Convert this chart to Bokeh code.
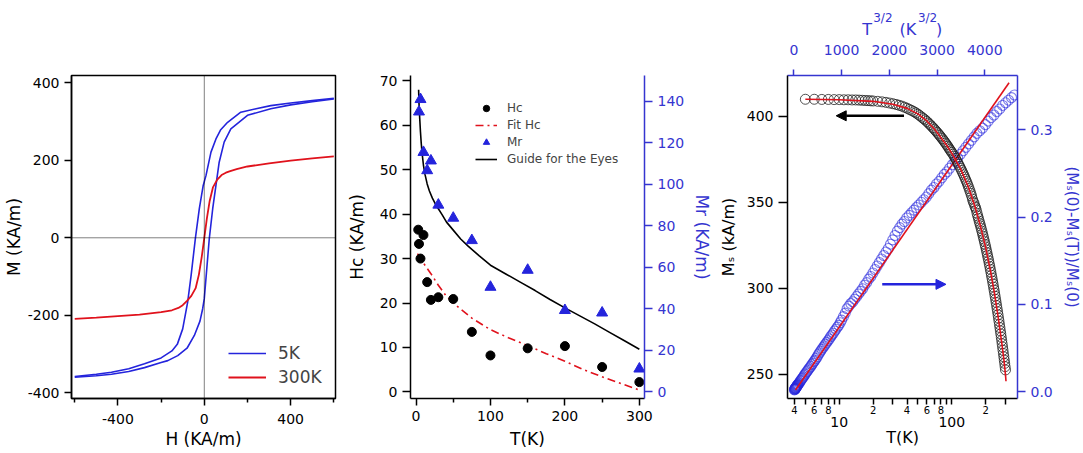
import numpy as np
from bokeh.plotting import figure
from bokeh.layouts import row
from bokeh.models import (Range1d, LinearAxis, LogAxis, FixedTicker, Span, Legend,
                          LegendItem, Arrow, NormalHead, LinearScale,
                          PrintfTickFormatter, LogTickFormatter)
from bokeh.embed import file_html
from bokeh.resources import INLINE

# ---------------- data ----------------
# Panel 1: M(H) loops
H_5K_down = [600, 500, 400, 308, 240, 169, 108, 75, 54, 31, 8, -5, -23, -41, -61, -77, -100,
             -125, -150, -200, -277, -350, -430, -500, -600]
M_5K_down = [360, 354, 348, 341, 333, 324, 298, 278, 255, 221, 161, 135, 75, 0, -97, -166, -235,
             -275, -292, -310, -325, -338, -347, -352, -358]
H_5K_up = [-600, -500, -430, -350, -277, -200, -169, -123, -80, -46, -20, -7.5, 0, 10, 23, 39, 54,
           69, 92, 123, 200, 308, 400, 500, 600]
M_5K_up = [-360, -356, -352, -345, -335, -322, -317, -304, -285, -252, -215, -183, -157, -90, -3,
           75, 135, 195, 247, 281, 316, 333, 343, 351, 358]
H_300K = [-600, -500, -400, -300, -200, -150, -120, -100, -80, -60, -40, -25, -12, 0, 12, 25, 40,
          60, 80, 100, 120, 150, 200, 300, 400, 500, 600]
M_300K = [-209, -206, -202, -198, -192, -187, -181, -174, -163, -150, -130, -95, -50, 0, 50, 95,
          130, 150, 162, 168, 172, 177, 184, 192, 199, 205, 210]
H_ticks = [-400, 0, 400]
H_minor = [-600, -200, 200, 600]
M_ticks = [-400, -200, 0, 200, 400]

# Panel 2: Hc, Mr vs T
T_hc = [3, 4, 6, 10, 15, 20, 30, 50, 75, 100, 150, 200, 250, 300]
Hc = [36.5, 33.3, 30.0, 35.3, 24.7, 20.7, 21.3, 20.9, 13.5, 8.2, 9.8, 10.3, 5.6, 2.2]
T_mr = [4, 6, 10, 15, 20, 30, 50, 75, 100, 150, 200, 250, 300]
Mr = [135.0, 141.0, 115.5, 106.7, 111.4, 90.1, 83.8, 73.0, 50.5, 58.7, 39.3, 38.1, 11.1]
T_fit_hc = [2, 5, 10, 15, 20, 30, 40, 50, 60, 75, 100, 125, 150, 175, 200, 225, 250, 275, 300]
Hc_fit = [31.1, 30.3, 29.0, 27.8, 26.6, 24.0, 21.7, 20.0, 18.6, 16.6, 14.0, 12.1, 10.4, 8.6,
          6.9, 5.0, 3.4, 1.9, 0.4]
T_guide = [3.5, 4, 5, 6, 7, 8, 10, 12, 15, 18, 22, 26, 30, 35, 41, 50, 60, 70, 85, 100, 120,
           140, 160, 180, 200, 220, 240, 260, 280, 300]
Hc_guide = [68.0, 65.0, 61.5, 58.5, 56.0, 54.0, 51.0, 49.0, 46.8, 45.2, 43.6, 42.3, 41.2, 39.9,
            38.2, 36.4, 34.4, 32.8, 30.6, 28.5, 26.6, 24.7, 22.8, 20.8, 18.9, 17.1, 15.3, 13.4,
            11.5, 9.6]

# Panel 3: Ms(T) (log T) and (Ms(0)-Ms(T))/Ms(0) vs T^3/2
T_ms = [5, 6, 7, 8, 9, 10, 11, 12, 13, 14, 15, 16, 17, 18, 19, 20,
        22, 24, 26, 28, 30, 32, 34, 36, 38,
        40, 42, 44, 46, 48, 50, 52, 54, 56, 58, 60, 62, 64, 66, 68, 70, 72, 74, 76, 78, 80, 82,
        84, 86, 88, 90, 92, 94, 96, 98,
        100, 102.5, 105, 107.5, 110, 112.5, 115, 117.5, 120, 122.5, 125, 127.5, 130, 132.5, 135,
        137.5, 140, 142.5, 145, 147.5, 150, 152.5, 155, 157.5, 160, 162.5, 165, 167.5, 170, 172.5,
        175, 177.5, 180, 182.5, 185, 187.5, 190, 192.5, 195, 197.5, 200, 202.5, 205, 207.5, 210,
        212.5, 215, 217.5, 220, 222.5, 225, 227.5, 230, 232.5, 235, 237.5, 240, 242.5, 245,
        247.5, 250, 252.5, 255, 257.5, 260, 262.5, 265, 267.5, 270, 272.5, 275, 277.5, 280,
        282.5, 285, 287.5, 290, 292.5, 295, 297.5, 300]
Ms = [409.8, 409.8, 409.7, 409.7, 409.6, 409.6, 409.5, 409.5, 409.4, 409.4, 409.3, 409.2, 409.1,
      409.0, 408.9, 408.8,
      408.6, 408.3, 408.0, 407.6, 407.2, 406.8, 406.3, 405.8, 405.2,
      404.6, 403.9, 403.3, 402.6, 401.9, 401.1, 400.3, 399.4, 398.6, 397.8, 396.9, 396.0, 395.1,
      394.2, 393.3, 392.4, 391.5, 390.6, 389.7, 388.8, 387.9, 387.0, 386.1, 385.2, 384.3, 383.4,
      382.5, 381.6, 380.6, 379.8,
      378.9, 377.9, 376.7, 375.5, 374.4, 373.2, 372.0, 370.8, 369.6, 368.4, 367.1, 365.9, 364.6,
      363.3, 362.0, 360.7, 359.3, 357.9, 356.5, 355.1, 353.6, 351.8, 350.3, 349.4, 347.8, 346.9,
      345.5, 343.6, 342.0, 340.6, 339.0, 337.6, 336.2, 334.7, 333.2, 331.7, 330.2, 328.6, 327.1,
      325.5, 324.0, 322.4, 320.8, 319.2, 317.6, 316.0, 314.3, 312.7, 311.0, 309.3, 307.6, 305.9,
      304.2, 302.5, 300.7, 299.0, 297.2, 295.4, 293.6, 291.8, 290.0, 288.2, 286.4, 284.6, 282.7,
      280.9, 279.0, 277.2, 275.3, 273.5, 271.6, 269.7, 267.8, 265.9, 264.0, 262.1, 260.2, 258.3,
      256.4, 254.5, 252.6]
T_ms_fit = [5, 10, 20, 30, 40, 50, 60, 70, 80, 90, 100, 120, 140, 160, 180, 200, 220, 240, 260,
            280, 290, 300, 303]
Ms_fit = [409.8, 409.5, 408.6, 406.9, 404.5, 401.3, 397.2, 392.5, 387.6, 383.0, 378.5, 369.2,
          359.0, 347.8, 336.0, 323.6, 310.5, 296.6, 282.0, 266.7, 258.8, 249.6, 246.0]

T_red = [5, 6, 7, 8, 9, 10, 11, 12, 13, 14, 15, 16, 17, 18, 19, 20,
         22, 24, 26, 28, 30, 32, 34, 36, 38,
         40, 42, 44, 46, 48, 50, 52, 54, 56, 58, 60, 62, 64, 66, 68, 70, 72, 74, 76, 78, 80, 82,
         84, 86, 88, 90, 92, 94, 96, 98,
         100, 102.5, 105, 107.5, 110, 112.5, 115, 117.5, 120, 122.5, 125, 127.5, 130, 132.5, 135,
         137.5, 140, 142.5, 145, 147.5, 150, 152.5, 155, 157.5, 160, 162.5, 165, 167.5, 170,
         172.5, 175, 177.5, 180, 182.5, 185, 187.5, 190, 192.5, 195, 197.5, 200, 202.5, 205,
         207.5, 210, 212.5, 215, 217.5, 220, 222.5, 225, 227.5, 230, 232.5, 235, 237.5, 240,
         242.5, 245, 247.5, 250, 252.5, 255, 257.5, 260, 262.5, 265, 267.5, 270, 272.5, 275, 277.5]
R_red = [0.002, 0.0025, 0.003, 0.003, 0.0035, 0.004, 0.004, 0.0045, 0.005, 0.0055, 0.006, 0.0065,
         0.007, 0.0075, 0.008, 0.0085,
         0.0095, 0.0105, 0.012, 0.013, 0.0145, 0.0155, 0.017, 0.0185, 0.020,
         0.0215, 0.023, 0.0245, 0.026, 0.0275, 0.029, 0.031, 0.0325, 0.0345, 0.036, 0.038, 0.040,
         0.0425, 0.0445, 0.0465, 0.0485, 0.0505, 0.0525, 0.0545, 0.0565, 0.0585, 0.0605, 0.063,
         0.065, 0.067, 0.0695, 0.0715, 0.074, 0.076, 0.079,
         0.082, 0.086, 0.090, 0.095, 0.098, 0.101, 0.103, 0.106, 0.109, 0.112, 0.115, 0.118,
         0.122, 0.125, 0.129, 0.132, 0.136, 0.140, 0.144, 0.148, 0.152, 0.156, 0.160, 0.164,
         0.169, 0.174, 0.179, 0.184, 0.188, 0.192, 0.195, 0.199, 0.202, 0.205, 0.208, 0.211,
         0.214, 0.217, 0.220, 0.223, 0.227, 0.231, 0.234, 0.238, 0.241, 0.245, 0.249, 0.252,
         0.256, 0.260, 0.264, 0.268, 0.272, 0.276, 0.280, 0.284, 0.288, 0.292, 0.296, 0.299,
         0.302, 0.306, 0.310, 0.314, 0.317, 0.321, 0.324, 0.328, 0.331, 0.334, 0.337, 0.340]
T32_fit = [34, 4509]
R_fit = [0.002, 0.354]
T32_red = list(np.array(T_red, dtype=float) ** 1.5)

FONT = "DejaVu Sans"
BLUE = "#2424dc"
RED = "#e0121c"
AXBLUE = "#3535d0"


def style_axis(ax, color="black", tick_font="14px", label_font="17px", tick_out=6):
    ax.axis_line_color = color
    ax.axis_line_width = 1.5
    ax.major_tick_line_color = color
    ax.major_tick_line_width = 1.5
    ax.minor_tick_line_color = color
    ax.minor_tick_line_width = 1.5
    ax.major_tick_in = 0
    ax.minor_tick_in = 0
    ax.major_tick_out = tick_out
    ax.minor_tick_out = 4
    ax.major_label_text_color = color
    ax.major_label_text_font = FONT
    ax.major_label_text_font_size = tick_font
    ax.axis_label_text_color = color
    ax.axis_label_text_font = FONT
    ax.axis_label_text_font_size = label_font
    ax.axis_label_text_font_style = "normal"


def text_axis(ax, color, font_size, standoff):
    # an axis used only to place text pieces (no line, no ticks)
    ax.axis_line_color = None
    ax.major_tick_line_color = None
    ax.minor_tick_line_color = None
    ax.major_tick_out = 0
    ax.major_tick_in = 0
    ax.major_label_text_color = color
    ax.major_label_text_font = FONT
    ax.major_label_text_font_size = font_size
    ax.major_label_standoff = standoff


# ---------------- panel 1 ----------------
p1 = figure(width=343, height=453, x_range=Range1d(-615, 607.7), y_range=Range1d(-414.7, 418.8),
            output_backend="svg", toolbar_location=None, title=None,
            min_border_left=70, min_border_right=8, min_border_top=75, min_border_bottom=55)
p1.grid.visible = False
p1.outline_line_color = "black"
p1.outline_line_width = 1.5
p1.add_layout(Span(location=0, dimension="width", line_color="black", line_dash="1 1", line_width=1))
p1.add_layout(Span(location=0, dimension="height", line_color="black", line_dash="1 1", line_width=1))
l5 = p1.line(H_5K_down, M_5K_down, line_color=BLUE, line_width=1.6)
p1.line(H_5K_up, M_5K_up, line_color=BLUE, line_width=1.6)
l300 = p1.line(H_300K, M_300K, line_color=RED, line_width=1.8)
style_axis(p1.xaxis[0], tick_out=7)
style_axis(p1.yaxis[0], tick_out=7)
p1.xaxis.ticker = FixedTicker(ticks=H_ticks, minor_ticks=H_minor)
p1.yaxis.ticker = FixedTicker(ticks=M_ticks, minor_ticks=[])
p1.xaxis.major_label_overrides = {v: str(v) for v in H_ticks}
p1.yaxis.major_label_overrides = {v: str(v) for v in M_ticks}
p1.xaxis.axis_label = "H (KA/m)"
p1.yaxis.axis_label = "M (KA/m)"
p1.xaxis.major_label_standoff = 8
p1.yaxis.axis_label_standoff = 1
p1.xaxis.axis_label_standoff = 2
leg1 = Legend(items=[LegendItem(label="5K", renderers=[l5]), LegendItem(label="300K", renderers=[l300])],
              location=(157, 9), glyph_width=38, glyph_height=20, label_height=24, label_standoff=12,
              padding=0, margin=0, spacing=0, border_line_color=None, background_fill_alpha=0,
              label_text_font=FONT, label_text_font_size="17px")
p1.add_layout(leg1)

# ---------------- panel 2 ----------------
p2 = figure(width=372, height=453, x_range=Range1d(-7.4, 306.9), y_range=Range1d(-1.49, 71.2),
            output_backend="svg", toolbar_location=None, title=None,
            min_border_left=63, min_border_right=67, min_border_top=73, min_border_bottom=53)
p2.extra_y_ranges = {"mr": Range1d(-3.19, 152.5)}
p2.grid.visible = False
p2.outline_line_color = None
style_axis(p2.xaxis[0], tick_font="14px", label_font="17px", tick_out=7)
style_axis(p2.yaxis[0], tick_font="14px", label_font="17px", tick_out=8)
p2.xaxis.ticker = FixedTicker(ticks=[0, 100, 200, 300], minor_ticks=[50, 150, 250])
p2.yaxis.ticker = FixedTicker(ticks=[0, 10, 20, 30, 40, 50, 60, 70], minor_ticks=[])
p2.xaxis.axis_label = "T(K)"
p2.yaxis.axis_label = "Hc (KA/m)"
p2.xaxis.axis_label_standoff = 5
p2.yaxis.axis_label_standoff = 10
ax_mr = LinearAxis(y_range_name="mr", axis_label="Mr (KA/m)",
                   ticker=FixedTicker(ticks=[0, 20, 40, 60, 80, 100, 120, 140], minor_ticks=[]))
style_axis(ax_mr, color=AXBLUE, tick_font="14px", label_font="17px", tick_out=8)
ax_mr.axis_label_standoff = 5
p2.add_layout(ax_mr, "right")

lfit = p2.line(T_fit_hc, Hc_fit, line_color=RED, line_width=1.6, line_dash="8 4 2 4")
lguide = p2.line(T_guide, Hc_guide, line_color="black", line_width=1.6)
shc = p2.scatter(T_hc, Hc, marker="circle", size=9, color="black")
smr = p2.scatter(T_mr, Mr, marker="triangle", size=11, color=BLUE, y_range_name="mr")
leg2 = Legend(items=[LegendItem(label="Hc", renderers=[shc]),
                     LegendItem(label="Fit Hc", renderers=[lfit]),
                     LegendItem(label="Mr", renderers=[smr]),
                     LegendItem(label="Guide for the Eyes", renderers=[lguide])],
              location=(65, 231), glyph_width=22, glyph_height=16, label_height=17, label_standoff=10,
              padding=0, margin=0, spacing=0, border_line_color=None, background_fill_alpha=0,
              label_text_font=FONT, label_text_font_size="12px")
p2.add_layout(leg2)

# ---------------- panel 3 ----------------
p3 = figure(width=368, height=453, x_axis_type="log", x_range=Range1d(3.47, 383.4),
            y_range=Range1d(236.0, 423.6), output_backend="svg", toolbar_location=None, title=None,
            min_border_left=67, min_border_right=64, min_border_top=71, min_border_bottom=51)
p3.extra_x_ranges = {"t32": Range1d(-134, 4686)}
p3.extra_x_scales = {"t32": LinearScale()}
p3.extra_y_ranges = {"r": Range1d(-0.0078, 0.3623)}
p3.grid.visible = False
p3.outline_line_color = None

bax = p3.below[0]
style_axis(bax, tick_font="10px", label_font="16px")
bax.ticker = FixedTicker(ticks=[4, 6, 8, 10, 20, 40, 60, 80, 100, 200],
                         minor_ticks=[5, 7, 9, 30, 50, 70, 90, 300])
bax.major_label_overrides = {4: "4", 6: "6", 8: "8", 10: " ", 20: "2", 40: "4", 60: "6",
                             80: "8", 100: " ", 200: "2"}
bax.major_label_standoff = 0
bax.minor_tick_out = 6
bax2 = LogAxis(ticker=FixedTicker(ticks=[10, 100], minor_ticks=[]),
               formatter=LogTickFormatter(min_exponent=5), axis_label="T(K)")
style_axis(bax2, tick_font="14px", label_font="16px", tick_out=0)
bax2.axis_line_color = None
bax2.major_tick_line_color = None
bax2.minor_tick_line_color = None
bax2.major_label_overrides = {10: "10", 100: "100"}
bax2.major_label_standoff = -2
bax2.axis_label_standoff = -2
p3.add_layout(bax2, "below")

lax = p3.left[0]
style_axis(lax, tick_font="14px", label_font="16px", tick_out=9)
lax.ticker = FixedTicker(ticks=[250, 300, 350, 400], minor_ticks=[])
lax.axis_label = "Mₛ (kA/m)"
lax.axis_label_standoff = 6

tax = LinearAxis(x_range_name="t32", ticker=FixedTicker(ticks=[0, 1000, 2000, 3000, 4000], minor_ticks=[]))
style_axis(tax, color=AXBLUE, tick_font="14px", label_font="16px", tick_out=6)
tax.major_label_standoff = 15
p3.add_layout(tax, "above")

# top title  T^{3/2} (K^{3/2}) built from two text-only axes
title_pos = [1535, 2390, 3045]
title_txt = {1535: "T", 2390: "(K", 3045: ")"}
sup_pos = [1865, 2801]
sup_txt = {1865: "3/2", 2801: "3/2"}
tax_b = LinearAxis(x_range_name="t32", ticker=FixedTicker(ticks=title_pos, minor_ticks=[]))
text_axis(tax_b, AXBLUE, "16px", 3)
tax_b.major_label_overrides = title_txt
p3.add_layout(tax_b, "above")
tax_c = LinearAxis(x_range_name="t32", ticker=FixedTicker(ticks=sup_pos, minor_ticks=[]))
text_axis(tax_c, AXBLUE, "12px", -8)
tax_c.major_label_overrides = sup_txt
p3.add_layout(tax_c, "above")

rax = LinearAxis(y_range_name="r", ticker=FixedTicker(ticks=[0.0, 0.1, 0.2, 0.3], minor_ticks=[]),
                 formatter=PrintfTickFormatter(format="%.1f"),
                 axis_label="(Mₛ(0)-Mₛ(T))/Mₛ(0)")
style_axis(rax, color=AXBLUE, tick_font="14px", label_font="15px", tick_out=8)
rax.axis_label_standoff = 7
p3.add_layout(rax, "right")

p3.scatter(T32_red, R_red, x_range_name="t32", y_range_name="r", marker="circle", size=10,
           fill_color=None, line_color=BLUE, line_alpha=0.6, line_width=1.1)
p3.line(T32_fit, R_fit, x_range_name="t32", y_range_name="r", line_color=RED, line_width=1.6)
p3.scatter(T_ms, Ms, marker="circle", size=10, fill_color=None, line_color="#1a1a1a",
           line_alpha=0.75, line_width=1)
p3.line(T_ms_fit, Ms_fit, line_color=RED, line_width=1.6)

p3.add_layout(Arrow(end=NormalHead(size=10, fill_color="black", line_color="black"),
                    x_start=37.6, y_start=400.2, x_end=9.4, y_end=400.2,
                    line_color="black", line_width=2.5))
p3.add_layout(Arrow(end=NormalHead(size=10, fill_color=BLUE, line_color=BLUE),
                    x_start=1851, y_start=0.123, x_end=3187, y_end=0.123,
                    x_range_name="t32", y_range_name="r", line_color=BLUE, line_width=2.5))

layout = row(p1, p2, p3)
open("out.html", "w").write(file_html(layout, INLINE))
